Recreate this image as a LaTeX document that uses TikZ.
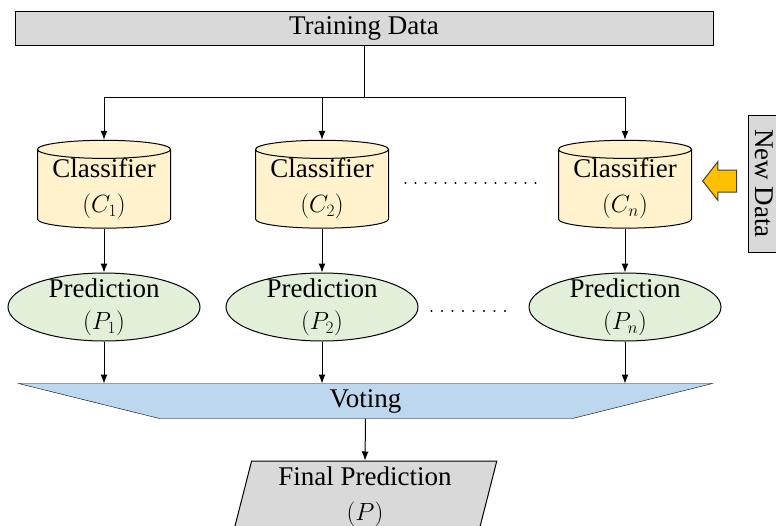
\documentclass[tikz,border=0pt]{standalone}
\usepackage{fontspec}
\setmainfont{Liberation Serif}
\usepackage{tikz,amsmath}
\usetikzlibrary{shapes,arrows,arrows.meta}
\usetikzlibrary{backgrounds,positioning,calc}
\DeclareMathSizes{27}{27}{19}{14}

\definecolor{datagray}{HTML}{D9D9D9}
\definecolor{clsyellow}{HTML}{FFF2CC}
\definecolor{predgreen}{HTML}{E2F0D9}
\definecolor{voteblue}{HTML}{BDD7EE}
\definecolor{newgold}{HTML}{FFC000}
\definecolor{edgegray}{HTML}{404040}

\begin{document}
\begin{tikzpicture}[x=1pt, y=-1pt, auto, align=center, >={Latex[length=9pt,width=7pt]}, line width=1pt,
  font=\fontsize{27}{35}\selectfont]

%local definitions
\tikzstyle{Data} = [draw, fill=datagray, rectangle, minimum width=698pt, minimum height=34pt, inner sep=0pt]
\tikzstyle{Classifier} = [draw, fill=clsyellow, cylinder, shape border rotate=90, aspect=0.175, minimum width=133pt, minimum height=78pt, inner sep=0pt]
\tikzstyle{Prediction} = [draw, fill=predgreen, ellipse, minimum width=192pt, minimum height=68pt, inner xsep=0pt, inner ysep=-7pt, font=\fontsize{27}{32}\selectfont]
\tikzstyle{Voting} = [rectangle, minimum width=693pt, minimum height=34pt, inner sep=0pt]
\tikzstyle{Final} = [draw, fill=datagray, trapezium, trapezium stretches=true, trapezium left angle=76.8, trapezium right angle=103.2, minimum width=264pt, minimum height=72pt, inner sep=0pt]
\tikzstyle{NewData} = [draw, fill=datagray, rectangle, rotate=-90, minimum width=137pt, minimum height=30pt, inner sep=0pt]
\tikzstyle{InArrow} = [draw=edgegray, fill=newgold, single arrow, shape border rotate=180, single arrow tip angle=104, single arrow head extend=8.5pt, minimum height=34pt, minimum width=38pt, inner xsep=0pt, inner ysep=10.5pt]
\tikzstyle{dotline} = [line width=2.4pt, line cap=round, dash pattern=on 0pt off 10pt]

\useasboundingbox (0,0) rectangle (776,525);
\clip (0,0) rectangle (776,525);

%board components
	\node [Data] (train) at (364,28) {Training Data};
	\coordinate [below=52pt of train.south] (split);

	\node [Classifier] (c1) at (104,189) {Classifier\\$(C_1)$};
	\node [Classifier] (c2) at (322,189) {Classifier\\$(C_2)$};
	\node [Classifier] (cn) at (625,189) {Classifier\\$(C_n)$};

	\node [Prediction] (p1) at (104,307) {Prediction\\$(P_1)$};
	\node [Prediction] (p2) at (322,307) {Prediction\\$(P_2)$};
	\node [Prediction] (pn) at (625,307) {Prediction\\$(P_n)$};

	\node [Voting] (vote) at (365.5,401) {Voting};
	\node [Final] (final) at (365,497) {Final Prediction\\$(P)$};

	\node [NewData] (newdata) at (763.8,183.5) {New Data};
	\node [InArrow] (inarrow) at (724,181) {};

%connections
	\draw (train.south) -- (split);
	\draw [->] (split) -| (c1.north);
	\draw [->] (split) -| (cn.north);
	\draw [->] (c2.north |- split) -- (c2.north);

	\draw [->] (c1.south) -- (p1.north);
	\draw [->] (c2.south) -- (p2.north);
	\draw [->] (cn.south) -- (pn.north);

	\draw [->] (p1.south) -- (p1.south |- vote.north);
	\draw [->] (p2.south) -- (p2.south |- vote.north);
	\draw [->] (pn.south) -- (pn.south |- vote.north);

	\draw [->] (vote.south) -- (final.north);

	%dots between the columns
	\draw [dotline] ($(c2.east)+(16.5,-6)$) -- ($(cn.west)+(-13,-6)$);
	\draw [dotline, dash pattern=on 0pt off 10.5pt] ($(p2.east)+(13,4)$) -- ($(pn.west)+(-13.5,4)$);

\begin{scope}[on background layer]
	\filldraw [draw=black,fill=voteblue] (vote.north west) -- (vote.north east) -- ($(vote.south east)+(-140,0)$) -- ($(vote.south west)+(141,0)$) -- cycle;
\end{scope}

\end{tikzpicture}
\end{document}
